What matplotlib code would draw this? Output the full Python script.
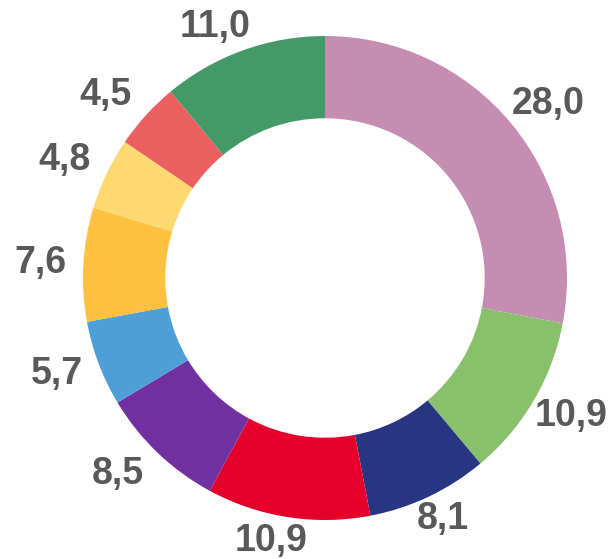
import matplotlib
matplotlib.use("Agg")
import matplotlib.pyplot as plt
import numpy as np

values = [28.0, 10.9, 8.1, 10.9, 8.5, 5.7, 7.6, 4.8, 4.5, 11.0]
labels = ["28,0", "10,9", "8,1", "10,9", "8,5", "5,7", "7,6", "4,8", "4,5", "11,0"]
colors = ["#C48DB1", "#88C06B", "#283583", "#E3002B", "#7030A0",
          "#4E9FD7", "#FFC13F", "#FFD970", "#EB5F5F", "#449A66"]

W, H = 613, 559
fig = plt.figure(figsize=(W / 100, H / 100), dpi=100)
ax = fig.add_axes([0, 0, 1, 1])
cx, cy, R = 325, 278, 242
wedges, _ = ax.pie(values, colors=colors, startangle=90, counterclock=False,
                   radius=1.0, wedgeprops=dict(width=0.34, linewidth=0))
ax.set_aspect("auto")
ax.set_xlim(-cx / R, (W - cx) / R)
ax.set_ylim((cy - H) / R, cy / R)
ax.axis("off")

fig.canvas.draw()
renderer = fig.canvas.get_renderer()
r0 = 1.04
b = 14.0 / R
dx = -7.0 / R
for w, lab in zip(wedges, labels):
    th = np.deg2rad(0.5 * (w.theta1 + w.theta2))
    t = ax.text(0, 0, lab, fontsize=27, fontweight="bold", color="#595959",
                family="Liberation Sans", ha="center", va="center")
    bb = t.get_window_extent(renderer=renderer)
    a = 0.5 * bb.width / R
    fx = np.clip(1.5 * np.cos(th), -1, 1)
    fy = np.clip(1.5 * np.sin(th), -1, 1)
    x = r0 * np.cos(th) + a * fx + dx
    y = r0 * np.sin(th) + b * fy
    t.set_position((x, y))

fig.savefig("out.png", dpi=100)
